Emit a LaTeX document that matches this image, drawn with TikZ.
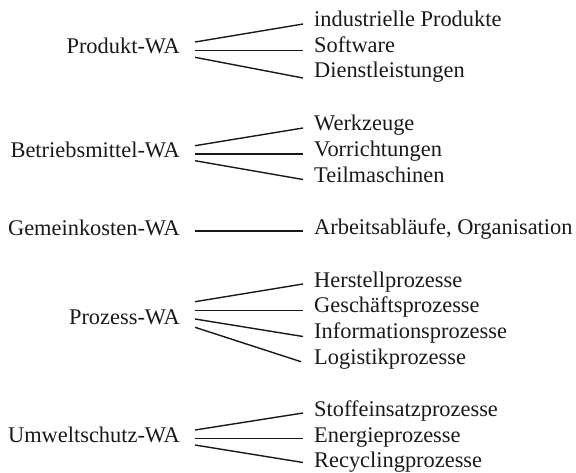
\documentclass[tikz,border=0pt]{standalone}
\usepackage{fontspec}
\setmainfont{Liberation Serif}
\usetikzlibrary{calc}
\begin{document}
\begin{tikzpicture}[x=1pt,y=-1pt,
  lab/.style={font=\fontsize{22.4}{26}\selectfont, inner sep=0pt, text=black!90},
  conn/.style={line width=1.4pt, black!90}]
\useasboundingbox (0,0) rectangle (576,472);
% left nodes
\node[lab, anchor=base east] (p) at (180,53) {Produkt-WA};
\node[lab, anchor=base east] (b) at (180,157) {Betriebsmittel-WA};
\node[lab, anchor=base east] (g) at (180,235) {Gemeinkosten-WA};
\node[lab, anchor=base east] (z) at (180,324) {Prozess-WA};
\node[lab, anchor=base east] (u) at (180,442) {Umweltschutz-WA};
% right nodes
\node[lab, anchor=base west] (p1) at (314,26.5) {industrielle Produkte};
\node[lab, anchor=base west] (p2) at (314,52) {Software};
\node[lab, anchor=base west] (p3) at (314,77.5) {Dienstleistungen};
\node[lab, anchor=base west] (b1) at (314,130) {Werkzeuge};
\node[lab, anchor=base west] (b2) at (314,156) {Vorrichtungen};
\node[lab, anchor=base west] (b3) at (314,182) {Teilmaschinen};
\node[lab, anchor=base west] (g1) at (314,234) {Arbeitsabläufe, Organisation};
\node[lab, anchor=base west] (z1) at (314,287) {Herstellprozesse};
\node[lab, anchor=base west] (z2) at (314,312.5) {Geschäftsprozesse};
\node[lab, anchor=base west] (z3) at (314,338.5) {Informationsprozesse};
\node[lab, anchor=base west] (z4) at (314,364) {Logistikprozesse};
\node[lab, anchor=base west] (u1) at (314,416.5) {Stoffeinsatzprozesse};
\node[lab, anchor=base west] (u2) at (314,442) {Energieprozesse};
\node[lab, anchor=base west] (u3) at (314,467.5) {Recyclingprozesse};
% connectors
\draw[conn] ($(p.base east)+(15,-11)$) -- ($(p1.base west)+(-11,-2.5)$);
\draw[conn] ($(p.base east)+(15,-2.5)$) -- ($(p2.base west)+(-11,-1.5)$);
\draw[conn] ($(p.base east)+(15,4.3)$) -- ($(p3.base west)+(-11,0.5)$);
\draw[conn] ($(b.base east)+(15,-11.3)$) -- ($(b1.base west)+(-11,-2)$);
\draw[conn] ($(b.base east)+(15,-3)$) -- ($(b2.base west)+(-11,-2)$);
\draw[conn] ($(b.base east)+(15,3.7)$) -- ($(b3.base west)+(-11,-2.5)$);
\draw[conn] ($(g.base east)+(15,-4)$) -- ($(g1.base west)+(-11,-3)$);
\draw[conn] ($(z.base east)+(15,-22.3)$) -- ($(z1.base west)+(-11,-3)$);
\draw[conn] ($(z.base east)+(15,-13.5)$) -- ($(z2.base west)+(-11,-2)$);
\draw[conn] ($(z.base east)+(15,-5)$) -- ($(z3.base west)+(-11,-2)$);
\draw[conn] ($(z.base east)+(15,3.3)$) -- ($(z4.base west)+(-13,-2.3)$);
\draw[conn] ($(u.base east)+(15,-12)$) -- ($(u1.base west)+(-11,-3.5)$);
\draw[conn] ($(u.base east)+(15,-3.7)$) -- ($(u2.base west)+(-11,-3.7)$);
\draw[conn] ($(u.base east)+(15,3)$) -- ($(u3.base west)+(-11,-5)$);
\end{tikzpicture}
\end{document}
